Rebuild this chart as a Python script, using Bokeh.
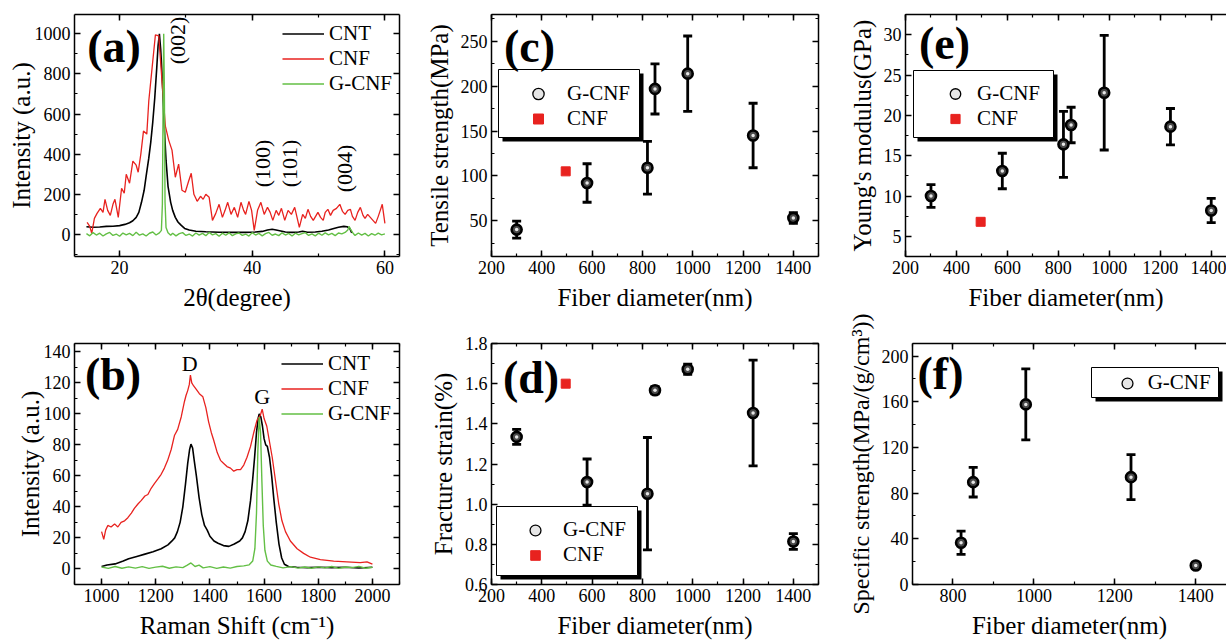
from math import pi
from bokeh.plotting import figure
from bokeh.models import (ColumnDataSource, Whisker, TeeHead, LinearAxis, SingleIntervalTicker,
                          Legend, LegendItem, Label, BoxAnnotation, CustomJSTickFormatter,
                          NumeralTickFormatter, Range1d)
from bokeh.layouts import row, column
from bokeh.embed import file_html
from bokeh.resources import INLINE

FONT = "Liberation Serif"
RED = "#e8221f"
GREEN = "#63bf45"

# ---------------- (a) XRD ----------------
xrd_cnt_x = [15.0, 16.0, 17.0, 18.0, 19.0, 20.0, 20.8, 21.5, 22.0, 22.5,
             22.9, 23.3, 23.7, 24.0, 24.4, 24.7, 25.0, 25.3, 25.6, 25.8,
             26.0, 26.2, 26.4, 26.7, 27.0, 27.3, 27.7, 28.0, 28.4, 28.8,
             29.0, 29.3, 29.8, 30.5, 31.5, 33.0, 35.0, 37.0, 39.0, 40.5,
             41.5, 42.3, 43.0, 43.6, 44.3, 45.0, 46.0, 47.0, 47.6, 48.3,
             49.5, 50.5, 51.5, 52.3, 53.0, 53.8, 54.3, 54.7, 55.0]
xrd_cnt_y = [38, 36, 37, 40, 41, 44, 50, 58, 68, 85,
             110, 160, 220, 290, 380, 460, 560, 680, 830, 940,
             1000, 920, 800, 560, 370, 240, 160, 120, 85, 62,
             55, 45, 30, 22, 16, 13, 11, 10, 10, 12,
             15, 22, 26, 22, 17, 12, 10, 12, 16, 11,
             12, 16, 22, 30, 36, 40, 38, 30, 8]

xrd_cnf_x = [15.1, 15.5, 15.8, 16.2, 16.6, 17.1, 17.5, 17.8, 18.2, 18.6,
             19.0, 19.3, 19.8, 20.3, 20.7, 21.0, 21.5, 22.0, 22.5, 22.8,
             23.2, 23.6, 24.1, 24.4, 24.9, 25.4, 25.9, 26.4, 26.9, 27.4,
             27.9, 28.4, 28.9, 29.4, 29.9, 30.4, 30.8, 31.2, 31.7, 32.2,
             32.6, 33.0, 33.5, 34.0, 34.5, 35.0, 35.5, 35.9, 36.3, 36.8,
             37.3, 37.8, 38.3, 38.7, 39.0, 39.5, 39.9, 40.3, 40.8, 41.3,
             41.8, 42.3, 42.7, 43.1, 43.6, 44.0, 44.4, 44.9, 45.4, 45.9,
             46.4, 47.1, 47.6, 48.0, 48.4, 48.8, 49.2, 49.9, 50.3, 50.7,
             51.0, 51.4, 51.8, 52.2, 52.7, 53.2, 53.6, 54.0, 54.4, 54.8,
             55.1, 55.5, 55.9, 56.3, 56.7, 57.0, 57.4, 57.8, 58.2, 58.6,
             59.0, 59.3, 59.6, 60.0]
xrd_cnf_y = [60, 40, 5, 80, 105, 130, 110, 175, 120, 95,
             150, 175, 85, 230, 205, 300, 255, 365, 345, 310,
             400, 515, 500, 665, 830, 995, 990, 760, 540, 470,
             420, 285, 350, 220, 210, 265, 305, 200, 165, 190,
             175, 200, 185, 70, 105, 150, 85, 120, 160, 100,
             135, 85, 160, 120, 100, 165, 120, 20, 120, 160,
             100, 135, 110, 70, 120, 95, 130, 70, 120, 100,
             135, 35, 100, 80, 125, 90, 70, 110, 85, 70,
             110, 125, 95, 120, 130, 150, 115, 100, 120, 125,
             90, 70, 110, 135, 95, 80, 100, 85, 70, 55,
             90, 120, 150, 55]

xrd_gcnf_x = [15.0, 15.5, 16.0, 16.5, 17.0, 17.5, 18.0, 18.5, 19.0, 19.5,
              20.0, 20.5, 21.0, 21.5, 22.0, 22.5, 23.0, 23.5, 24.0, 24.5,
              25.0, 25.5, 26.0,
              26.3, 26.45, 26.55, 26.65, 26.75, 26.85, 27.0, 27.3, 27.7,
              28.0, 28.5, 29.0, 29.5, 30.0, 30.5, 31.0, 31.5, 32.0, 32.5,
              33.0, 33.5, 34.0, 34.5, 35.0, 35.5, 36.0, 36.5, 37.0, 37.5,
              38.0, 38.5, 39.0, 39.5, 40.0, 40.5, 41.0, 41.5, 42.0, 42.5,
              43.0, 43.5, 44.0, 44.5, 45.0, 45.5, 46.0, 46.5, 47.0, 47.5,
              48.0, 48.5, 49.0, 49.5, 50.0, 50.5, 51.0, 51.5, 52.0, 52.5,
              53.0, 53.5, 54.0,
              54.4, 54.6, 54.8, 55.2,
              55.5, 56.0, 56.5, 57.0, 57.5, 58.0, 58.5, 59.0, 59.5, 60.0]
xrd_gcnf_y = [4, -7, 9, -3, 6, -8, 3, 10, -5, 2,
              -9, 7, -2, 5, -6, 11, -4, 3, -8, 6,
              12, -3, 8,
              20, 150, 620, 1000, 720, 160, 35, 8, -4,
              6, -7, 4, 9, -5, 2, -8, 7, -3, 5,
              -6, 10, -2, 4, -9, 6, -4, 8, -6, 3,
              7, -5, 2, -8, 9, -3, 5, -7, 4, 10,
              -4, 2, -6, 8, -3, 5, -8, 6, -2, 4,
              9, -5, 3, -7, 6, -4, 8, -2, 5, -6,
              7, 3, 10,
              22, 40, 26, 6,
              -5, 7, -3, 5, -8, 4, -4, 6, -2, 3]

xrd_peaks = ["(002)", "(100)", "(101)", "(004)"]

# ---------------- (b) Raman ----------------
raman_cnt_x = [1000, 1020, 1050, 1080, 1100, 1130, 1160, 1190, 1220, 1245,
               1260, 1270, 1280, 1290, 1300, 1310, 1318, 1325, 1330, 1336,
               1342, 1350, 1360, 1370, 1380, 1390, 1400, 1415, 1430, 1450,
               1470, 1490, 1510, 1520, 1530, 1540, 1550, 1557, 1565, 1572,
               1578, 1582, 1588, 1594, 1600, 1606, 1612, 1620, 1628, 1636,
               1645, 1655, 1665, 1675, 1690, 1720, 1760, 1800, 1850, 1900,
               1950, 2000]
raman_cnt_y = [1.5, 2.5, 3.2, 5, 6.5, 8, 9.5, 11, 13, 15.5,
               18, 20, 24, 30, 40, 55, 68, 77, 80.5, 78,
               70, 60, 46, 35, 28, 25, 21, 18, 16.5, 15,
               14.5, 16, 18, 20, 24, 31, 44, 56, 72, 88,
               97, 100, 98, 92, 84, 80, 79, 72, 60, 45,
               30, 16, 7, 3, 1.5, 1, 0.8, 1, 0.8, 1,
               0.5, 1]

raman_cnf_x = [1000, 1008, 1015, 1023, 1035, 1048, 1060, 1072, 1085, 1097,
               1110, 1121, 1135, 1146, 1160, 1171, 1183, 1195, 1208, 1220,
               1232, 1244, 1257, 1269, 1281, 1294, 1306, 1312, 1318, 1324,
               1328, 1333, 1340, 1349, 1361, 1374, 1385, 1395, 1405, 1414,
               1427, 1439, 1451, 1463, 1476, 1488, 1500, 1513, 1525, 1537,
               1550, 1562, 1574, 1586, 1593, 1600, 1610, 1620, 1630, 1642,
               1654, 1666, 1679, 1697, 1722, 1746, 1771, 1808, 1857, 1906,
               1955, 1980, 2000]
raman_cnf_y = [24, 19, 25, 28, 27, 29, 27, 30, 31, 33,
               36, 39, 42, 44, 47, 48, 52, 55, 58, 61,
               65, 70, 77, 86, 90, 98, 108, 112, 115, 119,
               125, 120, 118, 116, 113, 111, 104, 95, 88, 83,
               75, 70, 68, 66, 65, 63, 64, 64, 67, 72,
               79, 88, 96, 99, 103, 97, 92, 82, 72, 57,
               42, 31, 24, 18, 13, 10, 7.5, 6, 5, 4.5,
               4, 4.5, 3]

raman_gcnf_x = [1000, 1025, 1050, 1075, 1100, 1125, 1150, 1175, 1200, 1225,
                1250, 1275, 1300, 1315, 1330, 1345, 1360, 1375, 1400, 1425,
                1450, 1475, 1500, 1525, 1545, 1558, 1566, 1572, 1577, 1582,
                1587, 1592, 1597, 1603, 1612, 1625, 1645, 1670, 1700, 1725,
                1750, 1775, 1800, 1825, 1850, 1875, 1900, 1925, 1950, 1975,
                2000]
raman_gcnf_y = [1.2, 0.3, 1.5, 0.4, 1.3, 0.5, 1.4, 0.3, 1.1, 1.7,
                0.4, 1.3, 0.8, 2.2, 3.8, 1.5, 2.4, 0.6, 1.4, 0.3,
                1.2, 0.5, 1.5, 1.9, 2.6, 5, 13, 36, 76, 98,
                88, 56, 28, 12, 5, 2.5, 1.6, 0.6, 1.4, 0.5,
                1.2, 0.4, 1.3, 0.6, 1.5, 0.3, 1.2, 0.8, 1.6, 0.4,
                1.0]

raman_bands = ["D", "G"]

# ---------------- (c)-(f) mechanical ----------------
diameter = [300, 580, 820, 850, 980, 1240, 1400]
tensile = [40, 92, 109, 197, 214, 145, 53]
tensile_err = [9.5, 21.5, 29.5, 28, 42, 36, 6]
modulus = [10.0, 13.1, 16.4, 18.8, 22.8, 18.6, 8.2]
modulus_err = [1.4, 2.2, 4.1, 2.2, 7.1, 2.25, 1.5]
strain = [1.335, 1.11, 1.052, 1.567, 1.672, 1.454, 0.814]
strain_err = [0.037, 0.115, 0.28, 0.018, 0.025, 0.263, 0.039]

spec_diameter = [820, 850, 980, 1240, 1400]
specific = [36.5, 89.6, 157.7, 94.0, 16.6]
specific_err = [10.2, 13.0, 31.0, 19.7, 2.5]

cnf_diameter = [495]
cnf_tensile = [105]
cnf_tensile_err = [3]
cnf_modulus = [6.8]
cnf_strain = [1.60]

# ---------------- layout specs (pixels) ----------------
PA = dict(left=74, top=14, fw=325, fh=242, bl=74, br=11, bt=14, bb=58, xr=(13.2, 62.2), yr=(-110, 1096))
PB = dict(left=74, top=343, fw=325, fh=241, bl=74, br=11, bt=29, bb=56, xr=(900, 2100), yr=(-10.1, 145.4))
PC = dict(left=491, top=14, fw=327, fh=242, bl=81, br=12, bt=14, bb=58, xr=(200, 1500), yr=(10, 280))
PD = dict(left=491, top=343, fw=327, fh=241, bl=81, br=12, bt=29, bb=56, xr=(200, 1500), yr=(0.6, 1.8))
PE = dict(left=905, top=14, fw=321, fh=242, bl=75, br=0, bt=14, bb=58, xr=(200, 1460), yr=(2.5, 32.5))
PF = dict(left=912, top=343, fw=314, fh=241, bl=82, br=0, bt=29, bb=56, xr=(700, 1476), yr=(0, 211))


def px2data(s, px, py):
    x0, x1 = s["xr"]
    y0, y1 = s["yr"]
    return (x0 + (px - s["left"]) / s["fw"] * (x1 - x0),
            y1 - (py - s["top"]) / s["fh"] * (y1 - y0))


def style_axis(ax, interval, label=None, mirror=False, fmt=None, label_size="25px", lstand=5):
    ax.ticker = SingleIntervalTicker(interval=interval, num_minor_ticks=2)
    ax.axis_line_color = "black"
    ax.axis_line_width = 1.5
    ax.major_tick_line_color = "black"
    ax.major_tick_line_width = 1.5
    ax.minor_tick_line_color = "black"
    ax.minor_tick_line_width = 1.2
    ax.major_tick_in = 6
    ax.major_tick_out = 0
    ax.minor_tick_in = 3
    ax.minor_tick_out = 0
    if mirror:
        ax.formatter = CustomJSTickFormatter(code="return ''")
        ax.major_label_text_font_size = "0px"
        ax.major_label_standoff = 0
    else:
        if fmt is not None:
            ax.formatter = fmt
        ax.major_label_text_font = FONT
        ax.major_label_text_font_size = "18px"
        ax.major_label_text_font_style = "normal"
        ax.major_label_text_color = "black"
        ax.major_label_standoff = 4
        ax.axis_label = label
        ax.axis_label_text_font = FONT
        ax.axis_label_text_font_size = label_size
        ax.axis_label_text_font_style = "normal"
        ax.axis_label_text_color = "black"
        ax.axis_label_standoff = lstand


def make_panel(s, xint, yint, xlabel, ylabel, right_axis=True, yfmt=None, ylabel_size="25px",
               xstand=7, ystand=5):
    p = figure(frame_width=s["fw"], frame_height=s["fh"],
               min_border_left=s["bl"], min_border_right=s["br"],
               min_border_top=s["bt"], min_border_bottom=s["bb"],
               x_range=Range1d(*s["xr"]), y_range=Range1d(*s["yr"]),
               output_backend="svg", toolbar_location=None, title=None)
    p.outline_line_color = None
    p.xgrid.visible = False
    p.ygrid.visible = False
    p.background_fill_color = "white"
    p.border_fill_color = "white"
    style_axis(p.xaxis[0], xint, xlabel, lstand=xstand)
    style_axis(p.yaxis[0], yint, ylabel, fmt=yfmt, label_size=ylabel_size, lstand=ystand)
    top = LinearAxis()
    style_axis(top, xint, mirror=True)
    p.add_layout(top, "above")
    if right_axis:
        rt = LinearAxis()
        style_axis(rt, yint, mirror=True)
        p.add_layout(rt, "right")
    return p


def panel_label(p, s, text, px, py):
    x, y = px2data(s, px, py)
    p.add_layout(Label(x=x, y=y, text=text, text_font=FONT, text_font_size="46px",
                       text_font_style="bold", text_color="black",
                       text_align="center", text_baseline="middle"))


def note(p, s, text, px, py, angle=0.0, size="22px"):
    x, y = px2data(s, px, py)
    p.add_layout(Label(x=x, y=y, text=text, angle=angle, text_font=FONT, text_font_size=size,
                       text_color="black", text_align="center", text_baseline="middle"))


def line_legend(p, items, margin):
    leg = Legend(items=items, location="top_right", margin=margin, padding=0, spacing=0,
                 glyph_width=42, glyph_height=23, label_height=23, label_standoff=5,
                 label_text_font=FONT, label_text_font_size="21px", label_text_color="black",
                 border_line_color=None, background_fill_alpha=0)
    p.add_layout(leg)


def boxed_legend(p, s, items, box, loc, gw, H, standoff):
    l, t, r, b = box
    x0, y0 = px2data(s, l + 4, t + 4)
    x1, y1 = px2data(s, r + 4, b + 4)
    p.add_layout(BoxAnnotation(left=x0, right=x1, top=y0, bottom=y1, fill_color="black",
                               fill_alpha=1, line_color=None))
    x0, y0 = px2data(s, l, t)
    x1, y1 = px2data(s, r, b)
    p.add_layout(BoxAnnotation(left=x0, right=x1, top=y0, bottom=y1, fill_color="white",
                               fill_alpha=1, line_color="black", line_width=1, line_alpha=1))
    leg = Legend(items=items, location=loc, margin=0, padding=0, spacing=0,
                 glyph_width=gw, glyph_height=H, label_height=H, label_standoff=standoff,
                 label_text_font=FONT, label_text_font_size="21px", label_text_color="black",
                 border_line_color=None, background_fill_alpha=0)
    p.add_layout(leg)


def balls(p, xs, ys, errs):
    src = ColumnDataSource(dict(x=xs, y=ys,
                                upper=[v + e for v, e in zip(ys, errs)],
                                lower=[v - e for v, e in zip(ys, errs)]))
    p.add_layout(Whisker(source=src, base="x", upper="upper", lower="lower",
                         line_color="black", line_width=2.8,
                         upper_head=TeeHead(size=9, line_width=2.8, line_color="black"),
                         lower_head=TeeHead(size=9, line_width=2.8, line_color="black")))
    r1 = p.scatter(x="x", y="y", source=src, marker="circle", size=10, fill_color="#4a4a4a",
                   line_color="black", line_width=2.6)
    r2 = p.scatter(x="x", y="y", source=src, marker="circle", size=3.5, fill_color="#e6e6e6",
                   line_color=None)
    return [r1, r2]


def squares(p, xs, ys, errs=None):
    src = ColumnDataSource(dict(x=xs, y=ys))
    if errs is not None:
        src.data["upper"] = [v + e for v, e in zip(ys, errs)]
        src.data["lower"] = [v - e for v, e in zip(ys, errs)]
        p.add_layout(Whisker(source=src, base="x", upper="upper", lower="lower",
                             line_color=RED, line_width=2,
                             upper_head=TeeHead(size=6, line_width=2, line_color=RED),
                             lower_head=TeeHead(size=6, line_width=2, line_color=RED)))
    return p.scatter(x="x", y="y", source=src, marker="square", size=9, fill_color=RED,
                     line_color=RED)


# ---------------- (a) ----------------
pa = make_panel(PA, 20, 200, "2θ(degree)", "Intensity (a.u.)", ystand=-3)
ra1 = pa.line(xrd_cnt_x, xrd_cnt_y, line_color="black", line_width=1.6)
ra2 = pa.line(xrd_cnf_x, xrd_cnf_y, line_color=RED, line_width=1.3)
ra3 = pa.line(xrd_gcnf_x, xrd_gcnf_y, line_color=GREEN, line_width=1.4)
line_legend(pa, [LegendItem(label="CNT", renderers=[ra1]),
                 LegendItem(label="CNF", renderers=[ra2]),
                 LegendItem(label="G-CNF", renderers=[ra3])], 7)
panel_label(pa, PA, "(a)", 113.5, 46)
note(pa, PA, xrd_peaks[0], 176.5, 40, angle=pi / 2)
note(pa, PA, xrd_peaks[1], 262, 163, angle=pi / 2)
note(pa, PA, xrd_peaks[2], 288.7, 163, angle=pi / 2)
note(pa, PA, xrd_peaks[3], 343.7, 168, angle=pi / 2)

# ---------------- (b) ----------------
pb = make_panel(PB, 200, 20, "Raman Shift (cm\u207b\u00b9)", "Intensity (a.u.)", ystand=-3)
rb1 = pb.line(raman_cnt_x, raman_cnt_y, line_color="black", line_width=1.6)
rb2 = pb.line(raman_cnf_x, raman_cnf_y, line_color=RED, line_width=1.3)
rb3 = pb.line(raman_gcnf_x, raman_gcnf_y, line_color=GREEN, line_width=1.4)
line_legend(pb, [LegendItem(label="CNT", renderers=[rb1]),
                 LegendItem(label="CNF", renderers=[rb2]),
                 LegendItem(label="G-CNF", renderers=[rb3])], 8)
panel_label(pb, PB, "(b)", 112.5, 374)
note(pb, PB, raman_bands[0], 189.3, 363)
note(pb, PB, raman_bands[1], 261.7, 396)

# ---------------- (c) ----------------
pc = make_panel(PC, 200, 50, "Fiber diameter(nm)", "Tensile strength(MPa)")
gc = balls(pc, diameter, tensile, tensile_err)
sc = squares(pc, cnf_diameter, cnf_tensile, cnf_tensile_err)
boxed_legend(pc, PC, [LegendItem(label="G-CNF", renderers=gc), LegendItem(label="CNF", renderers=[sc])],
             (498, 69, 639, 137), (32, 125.5), 30, 25, 14)
panel_label(pc, PC, "(c)", 529, 46)

# ---------------- (d) ----------------
pd_ = make_panel(PD, 200, 0.2, "Fiber diameter(nm)", "Fracture strain(%)",
                 yfmt=NumeralTickFormatter(format="0.0"))
gd = balls(pd_, diameter, strain, strain_err)
sd = squares(pd_, cnf_diameter, cnf_strain)
boxed_legend(pd_, PD, [LegendItem(label="G-CNF", renderers=gd), LegendItem(label="CNF", renderers=[sd])],
             (496, 506, 637, 575), (29, 17), 30, 24, 13)
panel_label(pd_, PD, "(d)", 530.5, 377)

# ---------------- (e) ----------------
pe = make_panel(PE, 200, 5, "Fiber diameter(nm)", "Young's modulus(GPa)", right_axis=False)
ge = balls(pe, diameter, modulus, modulus_err)
se = squares(pe, cnf_diameter, cnf_modulus)
boxed_legend(pe, PE, [LegendItem(label="G-CNF", renderers=ge), LegendItem(label="CNF", renderers=[se])],
             (913, 70, 1053, 137), (35, 125.5), 30, 23, 7)
panel_label(pe, PE, "(e)", 944, 43)

# ---------------- (f) ----------------
pf = make_panel(PF, 200, 40, "Fiber diameter(nm)", "Specific strength(MPa/(g/cm\u00b3))",
                right_axis=False, ylabel_size="24px")
gf = balls(pf, spec_diameter, specific, specific_err)
boxed_legend(pf, PF, [LegendItem(label="G-CNF", renderers=gf)],
             (1091, 367, 1218, 397), (199.7, 189), 30, 24, 6)
panel_label(pf, PF, "(f)", 940, 373)

layout = column(row(pa, pc, pe), row(pb, pd_, pf))
open("out.html", "w").write(file_html(layout, INLINE))
